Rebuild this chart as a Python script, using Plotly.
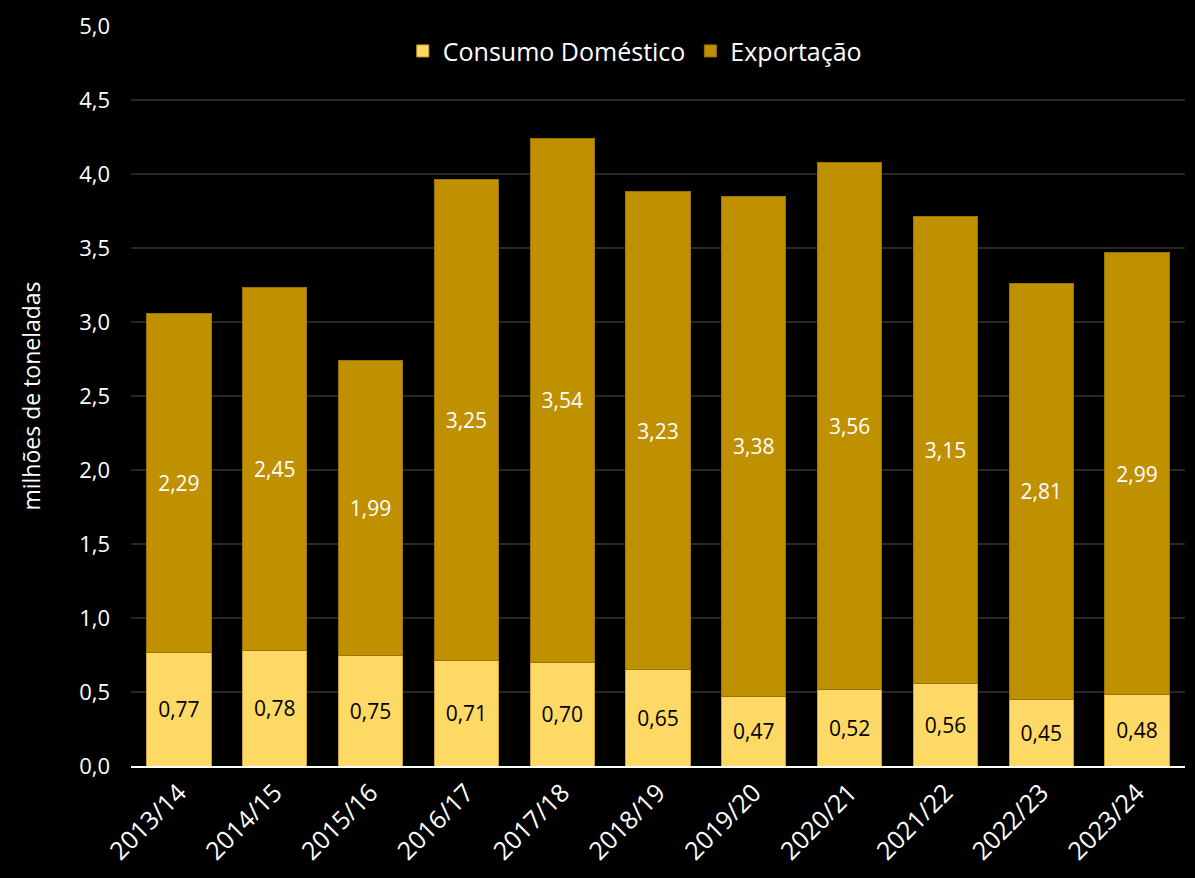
import plotly.graph_objects as go

safras = ['2013/14', '2014/15', '2015/16', '2016/17', '2017/18', '2018/19',
          '2019/20', '2020/21', '2021/22', '2022/23', '2023/24']
consumo = [0.77, 0.78, 0.75, 0.71, 0.70, 0.65, 0.47, 0.52, 0.56, 0.45, 0.48]
exportacao = [2.29, 2.45, 1.99, 3.25, 3.54, 3.23, 3.38, 3.56, 3.15, 2.81, 2.99]

font_family = 'Open Sans'

fig = go.Figure()
fig.add_trace(go.Bar(x=safras, y=consumo, name='Consumo Doméstico',
                     marker=dict(color='#FFD966', line=dict(color='#C9A227', width=1)),
                     text=[f'{v:.2f}'.replace('.', ',') for v in consumo],
                     textposition='inside', insidetextanchor='middle',
                     textfont=dict(color='black', size=21, family=font_family)))
fig.add_trace(go.Bar(x=safras, y=exportacao, name='Exportação',
                     marker=dict(color='#BF9000', line=dict(color='#9A7400', width=1)),
                     text=[f'{v:.2f}'.replace('.', ',') for v in exportacao],
                     textposition='inside', insidetextanchor='middle',
                     textfont=dict(color='white', size=21, family=font_family)))

fig.update_layout(
    width=1195, height=878, barmode='stack', bargap=0.33,
    separators=',.',
    paper_bgcolor='black', plot_bgcolor='black',
    font=dict(color='white', family=font_family, size=20),
    margin=dict(l=131, r=10, t=20, b=112),
    legend=dict(orientation='h', x=0.478, xanchor='center', y=0.966, yanchor='middle',
                font=dict(size=25, color='white'), bgcolor='rgba(0,0,0,0)',
                traceorder='normal', itemwidth=30),
    uniformtext=dict(mode='show', minsize=10),
    xaxis=dict(tickangle=-45, tickfont=dict(size=25, color='white'),
               showline=True, linecolor='white', linewidth=2, ticks=''),
    yaxis=dict(range=[0, 5.0], dtick=0.5, tickformat='.1f',
               tickfont=dict(size=22, color='white'),
               gridcolor='#262626', gridwidth=2, zeroline=False,
               ticklabelstandoff=20,
               title=dict(text='milhões de toneladas', font=dict(size=23, color='white'), standoff=32),
               ticks=''),
)

fig.write_html('out.html', config={'displayModeBar': False},
               post_script="document.body.style.margin='0';document.body.style.background='black';")
